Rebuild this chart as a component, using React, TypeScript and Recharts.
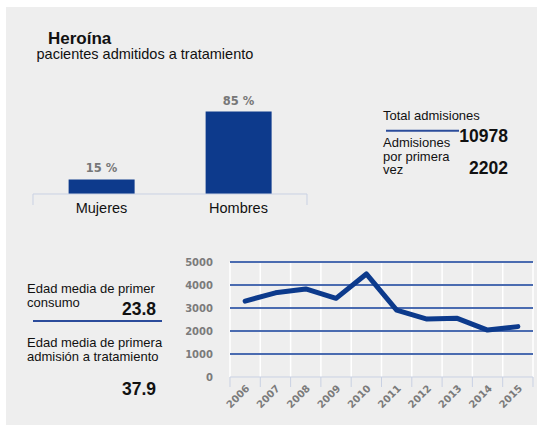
import { BarChart, Bar, LineChart, Line, XAxis, YAxis, CartesianGrid, LabelList } from 'recharts';

// gender split of admissions
const genderLabels = ['Mujeres', 'Hombres'];
const genderPct = [15, 85];

// admissions per year
const years = [2006, 2007, 2008, 2009, 2010, 2011, 2012, 2013, 2014, 2015];
const admissions = [3300, 3660, 3830, 3420, 4480, 2910, 2520, 2550, 2040, 2190];
const yTicks = [0, 1000, 2000, 3000, 4000, 5000];

const barData = genderLabels.map((name, i) => ({ name, value: genderPct[i] }));
const lineData = years.map((year, i) => ({ year, value: admissions[i] }));

// category edges for the tick marks / white vertical lines
const barEdges = [0, 1, 2];
const yearEdges = [...years.map((y) => y - 0.5), years[years.length - 1] + 0.5];
const yearDomain = [yearEdges[0], yearEdges[yearEdges.length - 1]];
const yearAxisTicks = [...yearEdges, ...years].sort((a, b) => a - b);

const SANS = '"Liberation Sans", Arial, sans-serif';
const TICK_FONT = '"DejaVu Sans", sans-serif';
const AXIS_LIGHT = '#c9d1e3';
const TICK_GRAY = '#7b7b7b';

// edges get a tick mark, year values get a slanted label
const YearTick = (props: any) => {
  const { x, y, payload } = props;
  const v = payload.value;
  if (!Number.isInteger(v)) {
    return <line x1={x} x2={x} y1={y} y2={y + 10} stroke={AXIS_LIGHT} />;
  }
  const ty = y + 7;
  return (
    <text
      x={x}
      y={ty}
      dy="0.71em"
      transform={`rotate(-45, ${x}, ${ty})`}
      textAnchor="end"
      fill={TICK_GRAY}
      fontSize={10}
      fontWeight="bold"
      fontFamily={TICK_FONT}
    >
      {v}
    </text>
  );
};

export default function App() {
  return (
    <div style={{ position: 'absolute', left: 0, top: 0, width: 537, height: 425, background: '#fff', overflow: 'hidden' }}>
      <div style={{ position: 'absolute', left: 6, top: 7, right: 0, bottom: 0, background: '#eeeeee' }} />

      <svg width={537} height={425} style={{ position: 'absolute', left: 0, top: 0 }} fontFamily={SANS} fill="#111">
        <text x={48} y={43.5} fontSize={17} fontWeight="bold">Heroína</text>
        <text x={36.5} y={59} fontSize={14.5}>pacientes admitidos a tratamiento</text>

        <text x={383} y={120} fontSize={13}>Total admisiones</text>
        <line x1={386} x2={459} y1={130.7} y2={130.7} stroke="#2b4c9b" strokeWidth={2} />
        <text x={508} y={142} fontSize={17.5} fontWeight="bold" textAnchor="end">10978</text>
        <text x={383} y={147} fontSize={13}>Admisiones</text>
        <text x={383} y={160.5} fontSize={13}>por primera</text>
        <text x={383} y={174} fontSize={13}>vez</text>
        <text x={508} y={174} fontSize={17.5} fontWeight="bold" textAnchor="end">2202</text>

        <text x={27} y={293} fontSize={13}>Edad media de primer</text>
        <text x={27} y={307} fontSize={13}>consumo</text>
        <text x={156} y={315} fontSize={17.5} fontWeight="bold" textAnchor="end">23.8</text>
        <line x1={33} x2={162} y1={321} y2={321} stroke="#2b4c9b" strokeWidth={2} />
        <text x={27} y={346.5} fontSize={13}>Edad media de primera</text>
        <text x={27} y={360.5} fontSize={13}>admisión a tratamiento</text>
        <text x={156} y={395} fontSize={17.5} fontWeight="bold" textAnchor="end">37.9</text>
      </svg>

      <div style={{ position: 'absolute', left: 0, top: 0 }}>
        <BarChart width={320} height={230} data={barData} margin={{ top: 97, right: 13, left: 33, bottom: 0 }} barCategoryGap="26%">
          <YAxis hide domain={[0, 100]} />
          <XAxis
            xAxisId="edge"
            type="number"
            domain={[0, 2]}
            ticks={barEdges}
            allowDataOverflow
            height={1}
            tickSize={11}
            stroke={AXIS_LIGHT}
            tickFormatter={() => ''}
          />
          <XAxis
            xAxisId="lab"
            dataKey="name"
            height={35}
            axisLine={false}
            tickLine={false}
            tickSize={0}
            tickMargin={8}
            tick={{ fill: '#111', fontSize: 14.5, fontFamily: SANS }}
          />
          <Bar xAxisId="lab" dataKey="value" fill="#0d3a8c" isAnimationActive={false}>
            <LabelList
              dataKey="value"
              position="top"
              offset={7}
              formatter={(v: any) => `${v} %`}
              fill="#777"
              fontSize={11.5}
              fontWeight="bold"
              fontFamily={TICK_FONT}
            />
          </Bar>
        </BarChart>
      </div>

      <div style={{ position: 'absolute', left: 160, top: 240 }}>
        <LineChart width={377} height={185} data={lineData} margin={{ top: 22, right: 4, left: 0, bottom: 0 }}>
          <CartesianGrid horizontal={false} stroke="#ffffff" strokeWidth={1.5} verticalValues={yearEdges} />
          <CartesianGrid vertical={false} stroke="#4a6bb0" strokeWidth={2} horizontalValues={yTicks.slice(1)} />
          <YAxis
            width={70}
            domain={[0, 5000]}
            ticks={yTicks}
            axisLine={false}
            tickLine={false}
            tickSize={6}
            tickMargin={11}
            tick={{ fill: TICK_GRAY, fontSize: 10, fontWeight: 'bold', fontFamily: TICK_FONT }}
          />
          <XAxis
            dataKey="year"
            type="number"
            domain={yearDomain}
            ticks={yearAxisTicks}
            interval={0}
            allowDataOverflow
            height={48}
            stroke={AXIS_LIGHT}
            tickLine={false}
            tickSize={0}
            tickMargin={0}
            tick={<YearTick />}
          />
          <Line
            type="linear"
            dataKey="value"
            stroke="#0c3a8c"
            strokeWidth={5}
            strokeLinecap="round"
            strokeLinejoin="round"
            dot={false}
            isAnimationActive={false}
          />
        </LineChart>
      </div>
    </div>
  );
}
